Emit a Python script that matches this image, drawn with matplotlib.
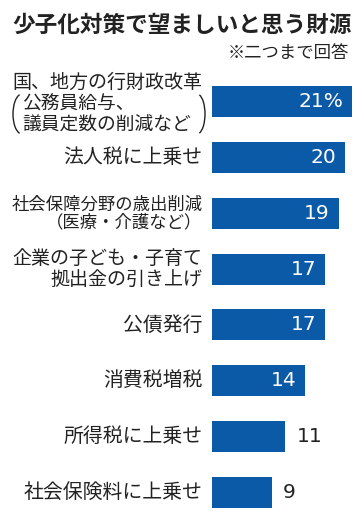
import matplotlib
matplotlib.use("Agg")
import matplotlib.pyplot as plt
from matplotlib.patches import Arc

plt.rcParams['font.family'] = ['Noto Sans CJK JP', 'DejaVu Sans']

title = "少子化対策で望ましいと思う財源"
note = "※二つまで回答"
labels = [
	"国、地方の行財政改革",
	"法人税に上乗せ",
	"社会保障分野の歳出削減\n（医療・介護など）",
	"企業の子ども・子育て\n拠出金の引き上げ",
	"公債発行",
	"消費税増税",
	"所得税に上乗せ",
	"社会保険料に上乗せ",
]
label_size = [13.7, 14.3, 12.5, 13.7, 14.3, 14.3, 14.3, 14.3]
sub_label = ["公務員給与、", "議員定数の削減など"]
values = [21, 20, 19, 17, 17, 14, 11, 9]
value_text = ["21%", "20", "19", "17", "17", "14", "11", "9"]

BAR = "#0b5aa8"
INK = "#222222"
W, H = 360, 522

fig = plt.figure(figsize=(3.6, 5.22), dpi=100)
ax = fig.add_axes([212 / W, 1 - 520 / H, 148 / W, (520 - 74) / H])
ypos = list(range(len(values)))
ax.barh(ypos, values, height=0.56, color=BAR)
ax.set_xlim(0, 148 / 6.67)
ax.set_ylim(len(values) - 0.5, -0.5)
ax.axis("off")

for i, (v, t) in enumerate(zip(values, value_text)):
	if v >= 14:
		ax.annotate(t, xy=(v, i), xytext=(-6.5, 0), textcoords="offset points",
			ha="right", va="center", color="white", fontsize=14.5,
			family="DejaVu Sans")
	else:
		ax.annotate(t, xy=(v, i), xytext=(8, 0), textcoords="offset points",
			ha="left", va="center", color=INK, fontsize=14.5,
			family="DejaVu Sans")

for i, lab in enumerate(labels):
	if i == 0:
		continue
	ax.annotate(lab, xy=(0, i), xycoords=("axes fraction", "data"),
		xytext=(-7, 0), textcoords="offset points", ha="right", va="center",
		fontsize=label_size[i], color=INK, linespacing=1.0)

# first label: main line plus bracketed note
fig.text(202 / W, 1 - 82 / H, labels[0], ha="right", va="center",
	fontsize=label_size[0], color=INK)
fig.text(22 / W, 1 - 104 / H, sub_label[0], ha="left", va="center",
	fontsize=13.5, color=INK)
fig.text(22 / W, 1 - 125 / H, sub_label[1], ha="left", va="center",
	fontsize=13.5, color=INK)
fig.add_artist(Arc((22 / W, 1 - 114 / H), 18 / W, 40 / H, theta1=100, theta2=260,
	transform=fig.transFigure, color=INK, lw=1.0))
fig.add_artist(Arc((197 / W, 1 - 114 / H), 16 / W, 40 / H, theta1=-80, theta2=80,
	transform=fig.transFigure, color=INK, lw=1.0))

fig.text(12 / W, 1 - 25 / H, title, ha="left", va="center",
	fontsize=16.3, fontweight="bold", color=INK)
fig.text(349 / W, 1 - 53 / H, note, ha="right", va="center",
	fontsize=12.5, color=INK)

fig.savefig("out.png", dpi=100)
